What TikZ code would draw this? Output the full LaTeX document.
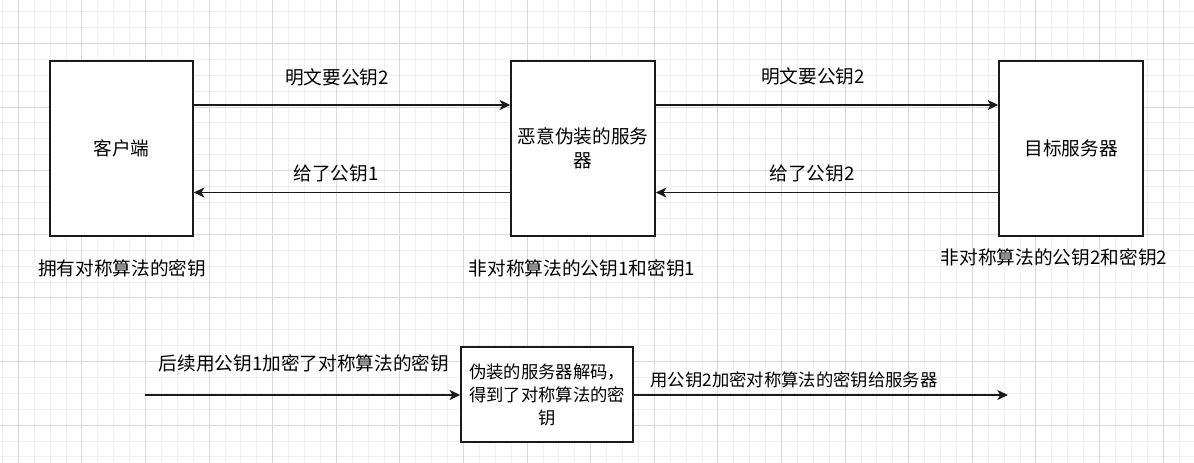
\documentclass[tikz,border=0pt]{standalone}
\usepackage{fontspec}
\setmainfont{Noto Sans CJK SC}
\usetikzlibrary{arrows.meta}
\definecolor{gminor}{HTML}{F0F0F0}
\definecolor{gmajor}{HTML}{D8D8D8}
\definecolor{ink}{HTML}{1A1A1A}
\tikzset{
  box/.style={draw=ink, line width=1.1pt, fill=white, inner sep=0pt, font=\fontsize{14}{18}\selectfont, align=center},
  conn/.style={draw=ink, line width=1.1pt, -{Stealth[length=8pt,width=7.5pt,inset=2.2pt]}},
  lbl/.style={inner sep=0pt, font=\fontsize{14}{18}\selectfont, text=black},
  slbl/.style={inner sep=0pt, font=\fontsize{13}{17}\selectfont, text=black},
}
\begin{document}
\begin{tikzpicture}[x=0.75pt,y=-0.75pt]
\useasboundingbox (0,0) rectangle (1194,463);
\fill[white] (0,0) rectangle (1194,463);
% grid
\foreach \i in {0,...,75} { \draw[gminor, line width=0.75pt] ({2.4+\i*15.9},0) -- ++(0,463); }
\foreach \i in {0,...,28} { \draw[gminor, line width=0.75pt] (0,{11.7+\i*15.9}) -- ++(1194,0); }
\foreach \i in {0,...,18} { \draw[gmajor, line width=0.75pt] ({18.3+\i*63.6},0) -- ++(0,463); }
\foreach \i in {0,...,6} { \draw[gmajor, line width=0.75pt] (0,{43.5+\i*63.6}) -- ++(1194,0); }
% boxes
\node[box, minimum width=143*0.75pt, minimum height=175*0.75pt] (client) at (121.5,148.5) {客户端};
\node[box, minimum width=144*0.75pt, minimum height=175*0.75pt] (fake) at (583,148.5) {恶意伪装的服务\\器};
\node[box, minimum width=144*0.75pt, minimum height=175*0.75pt] (target) at (1071,148.5) {目标服务器};
\node[box, font=\fontsize{13}{17.3}\selectfont, minimum width=172*0.75pt, minimum height=95*0.75pt] (decode) at (547,394.5) {伪装的服务器解码，\\得到了对称算法的密\\钥};
% free ends
\coordinate (bstart) at (145,395);
\coordinate (bend) at (1008,395);
% connectors
\draw[conn] (client.east |- 0,105) -- (fake.west |- 0,105);
\draw[conn] (fake.east |- 0,105) -- (target.west |- 0,105);
\draw[conn] (fake.west |- 0,192.5) -- (client.east |- 0,192.5);
\draw[conn] (target.west |- 0,192.5) -- (fake.east |- 0,192.5);
\draw[conn] (bstart) -- (decode.west |- bstart);
\draw[conn] (decode.east |- bend) -- (bend);
% labels
\node[lbl] (l1) at (337,77) {明文要公钥2};
\node[lbl] (l2) at (813,76) {明文要公钥2};
\node[lbl] (l3) at (336,173) {给了公钥1};
\node[lbl] (l4) at (812,173) {给了公钥2};
\node[lbl] (n1) at (122,268) {拥有对称算法的密钥};
\node[lbl] (n2) at (582,268) {非对称算法的公钥1和密钥1};
\node[lbl] (n3) at (1054,257) {非对称算法的公钥2和密钥2};
\node[lbl] (b1) at (304,363) {后续用公钥1加密了对称算法的密钥};
\node[slbl] (b2) at (794,380) {用公钥2加密对称算法的密钥给服务器};
\end{tikzpicture}
\end{document}
